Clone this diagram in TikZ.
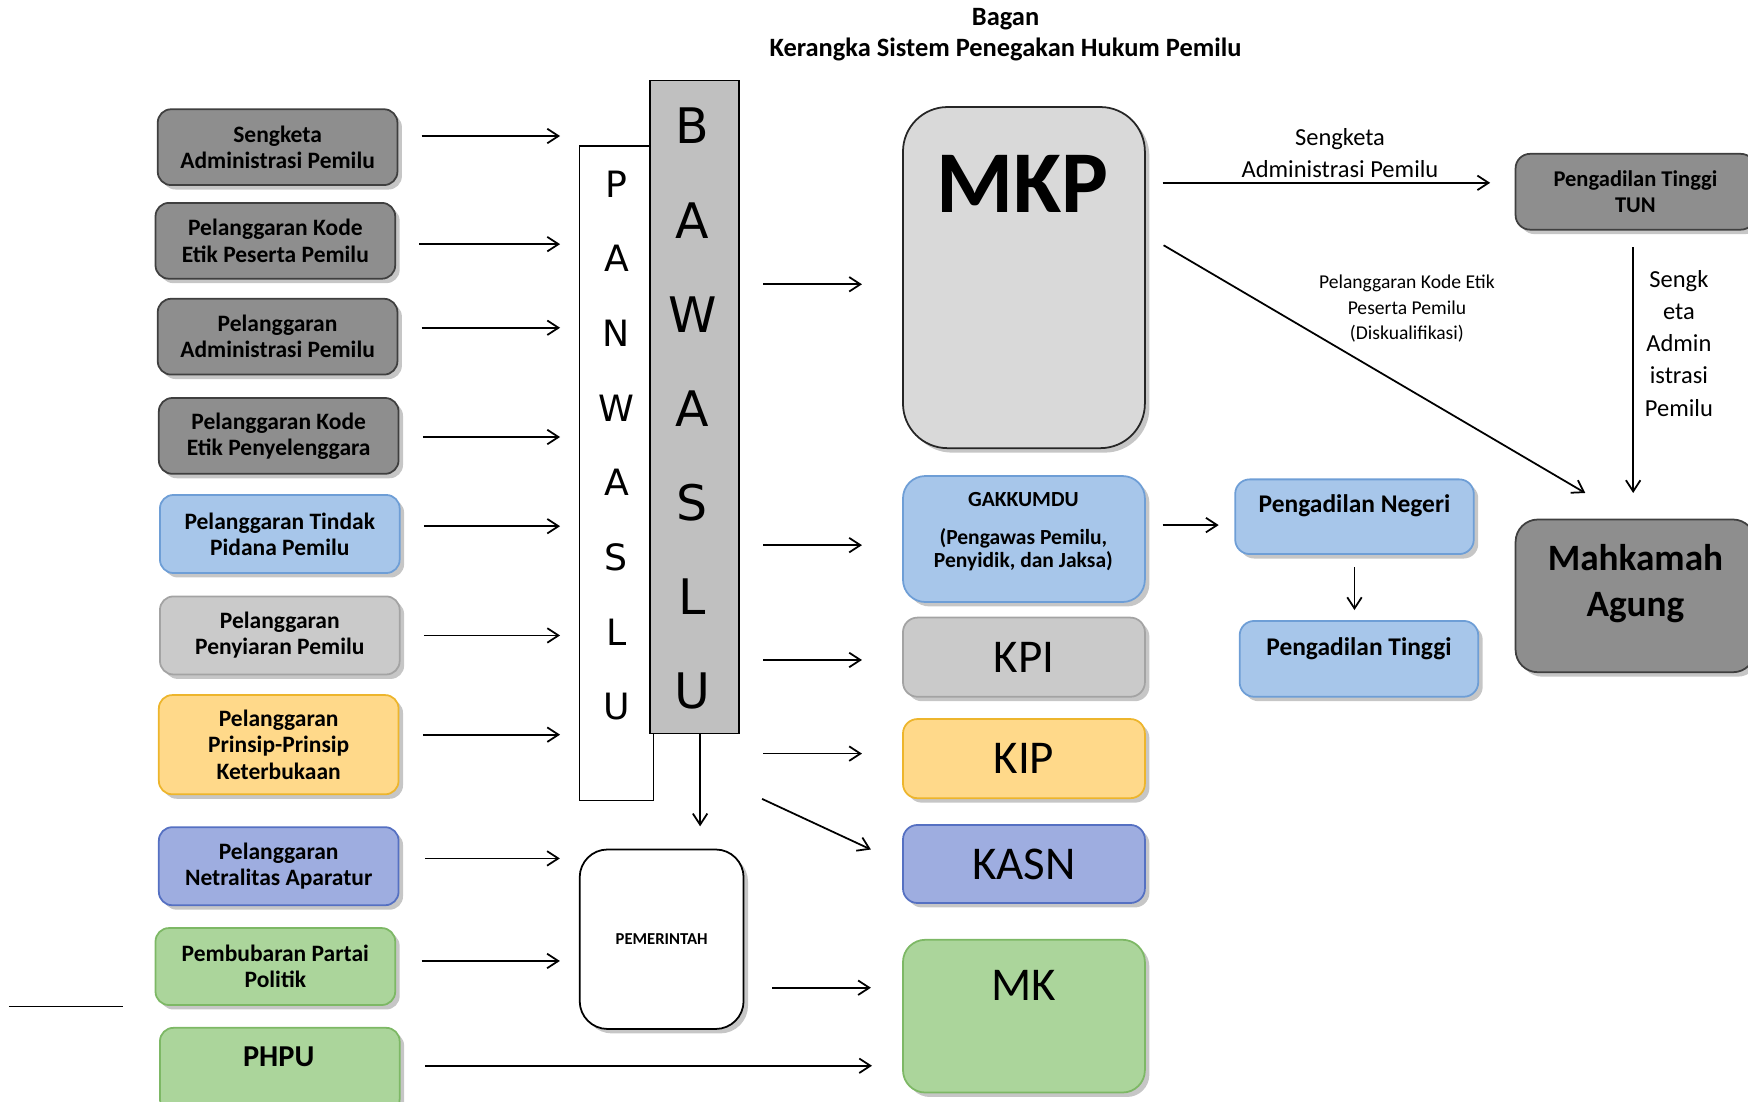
\documentclass[tikz,border=0pt]{standalone}
\usepackage{fontspec}
\setmainfont{Carlito}
\newfontfamily\pillarfont{DejaVu Sans}
\usetikzlibrary{arrows.meta, positioning, calc, shadows}
\definecolor{darkbox}{HTML}{8E8E8E}
\definecolor{darkline}{HTML}{3F3F3F}
\definecolor{bluebox}{HTML}{A7C6EA}
\definecolor{blueline}{HTML}{6E9ED6}
\definecolor{greybox}{HTML}{CACACA}
\definecolor{greyline}{HTML}{A3A3A3}
\definecolor{yellowbox}{HTML}{FFD98A}
\definecolor{yellowline}{HTML}{EDB52C}
\definecolor{violetbox}{HTML}{9EADE0}
\definecolor{violetline}{HTML}{5570C2}
\definecolor{greenbox}{HTML}{ABD59B}
\definecolor{greenline}{HTML}{7DB865}
\definecolor{mkpbox}{HTML}{D9D9D9}
\definecolor{pillargray}{HTML}{C0C0C0}
\tikzset{
  boxshadow/.style={drop shadow={shadow xshift=0.8mm, shadow yshift=-0.8mm, opacity=0.45}},
  graycase/.style={fill=darkbox, draw=darkline},
  bluecase/.style={fill=bluebox, draw=blueline},
  greycase/.style={fill=greybox, draw=greyline},
  yellowcase/.style={fill=yellowbox, draw=yellowline},
  violetcase/.style={fill=violetbox, draw=violetline},
  greencase/.style={fill=greenbox, draw=greenline},
  casebox/.style={draw, rounded corners=2.4mm, line width=0.9pt, minimum width=43mm, align=center,
    font=\bfseries\fontsize{12}{13.4}\selectfont, boxshadow},
  organ/.style={draw, rounded corners=2.6mm, line width=0.9pt, minimum width=43.4mm, align=center, boxshadow},
  bigword/.style={font=\fontsize{24}{28}\selectfont},
  courttext/.style={font=\bfseries\fontsize{13}{15}\selectfont},
  pillar/.style={draw, line width=0.7pt, inner sep=0pt},
  linklabel/.style={font=\fontsize{12.5}{16.4}\selectfont, align=center},
  arr/.style={-{Straight Barb[length=2mm, width=2.6mm]}, line width=0.9pt}
}
\begin{document}
\begin{tikzpicture}[x=0.2mm, y=-0.2mm]
\useasboundingbox (0,0) rectangle (1568,988);
\node[font=\bfseries\fontsize{13.5}{15.9}\selectfont, align=center] (title) at (902,31)
  {Bagan\\Kerangka Sistem Penegakan Hukum Pemilu};

% cases on the left
\node[casebox, graycase, minimum height=13.6mm] (s1) at (249,132) {Sengketa\\Administrasi Pemilu};
\node[casebox, graycase, minimum height=13.6mm] (s2) at (247,216) {Pelanggaran Kode\\Etik Peserta Pemilu};
\node[casebox, graycase, minimum height=13.6mm] (s3) at (249,302) {Pelanggaran\\Administrasi Pemilu};
\node[casebox, graycase, minimum height=13.6mm] (s4) at (250,391) {Pelanggaran Kode\\Etik Penyelenggara};
\node[casebox, bluecase, minimum height=14mm] (s5) at (251,479) {Pelanggaran Tindak\\Pidana Pemilu};
\node[casebox, greycase, minimum height=14mm] (s6) at (251,570) {Pelanggaran\\Penyiaran Pemilu};
\node[casebox, yellowcase, minimum height=17.8mm] (s7) at (250,668) {Pelanggaran\\Prinsip-Prinsip\\Keterbukaan};
\node[casebox, violetcase, minimum height=14mm] (s8) at (250,777) {Pelanggaran\\Netralitas Aparatur};
\node[casebox, greencase, minimum height=13.8mm] (s9) at (247,867) {Pembubaran Partai\\Politik};
\node[casebox, greencase, minimum height=15.2mm] (s10) at (251,960) {};
\node[font=\bfseries\fontsize{15.5}{18}\selectfont] (s10text) at (250,948) {PHPU};
\draw[line width=0.6pt] (8,903) -- (110,903);

% panwaslu / bawaslu
\node[pillar, fill=white, minimum width=13.2mm, minimum height=117.4mm] (pan) at (553,424.5) {};
\node[pillar, fill=pillargray, minimum width=16mm, minimum height=117.2mm] (baw) at (623,365) {};
\foreach \l [count=\i] in {P,A,N,W,A,S,L,U}
  \node[font=\pillarfont\fontsize{18.5}{20}\selectfont] (pl\i) at (553,98+67*\i) {\l};
\foreach \l [count=\i] in {B,A,W,A,S,L,U}
  \node[font=\pillarfont\fontsize{25}{28}\selectfont] (bl\i) at (621,28.5+84.5*\i) {\l};
\node[draw, fill=white, rounded corners=5mm, line width=0.9pt, minimum width=29.4mm, minimum height=32.2mm,
  boxshadow, font=\bfseries\fontsize{8.5}{10}\selectfont] (pem) at (593.5,842.5) {PEMERINTAH};

% institutions
\node[organ, fill=mkpbox, draw=black!85, rounded corners=8mm, minimum height=61.2mm] (mkp) at (918.5,249) {};
\node[font=\bfseries\fontsize{45}{50}\selectfont] (mkptext) at (917,165) {MKP};
\node[organ, bluecase, rounded corners=4mm, minimum height=22.6mm] (gak) at (918.5,483.5) {};
\node[font=\bfseries\fontsize{11}{11.5}\selectfont, align=center] (gaktext) at (918,477)
  {GAKKUMDU\\[8pt](Pengawas Pemilu,\\Penyidik, dan Jaksa)};
\node[organ, greycase, bigword, minimum height=14.2mm] (kpi) at (918.5,589.5) {KPI};
\node[organ, yellowcase, bigword, minimum height=14.2mm] (kip) at (918.5,680.5) {KIP};
\node[organ, violetcase, bigword, minimum height=14mm] (kasn) at (918.5,775) {KASN};
\node[organ, greencase, rounded corners=4mm, minimum height=27.4mm] (mk) at (918.5,911.5) {};
\node[bigword] (mktext) at (918,884) {MK};

% courts
\node[organ, graycase, minimum width=43mm, minimum height=13.6mm, font=\bfseries\fontsize{11.5}{13.6}\selectfont]
  (tun) at (1467,172) {Pengadilan Tinggi\\TUN};
\node[organ, graycase, rounded corners=4mm, minimum width=43mm, minimum height=27.4mm] (ma) at (1467,534.5) {};
\node[font=\bfseries\fontsize{19}{23}\selectfont, align=center] (matext) at (1467,523.5) {Mahkamah\\Agung};
\node[organ, bluecase, minimum width=42.8mm, minimum height=13.4mm] (pn) at (1215,463.5) {};
\node[courttext] (pntext) at (1215,454) {Pengadilan Negeri};
\node[organ, bluecase, minimum width=42.8mm, minimum height=13.6mm] (pt) at (1219,591) {};
\node[courttext] (pttext) at (1219,582) {Pengadilan Tinggi};

% arrows
\foreach \n/\y in {s1/122, s2/219, s3/294, s4/392, s5/472, s6/570, s7/659}
  \draw[arr] ($(\n.east |- 0,\y)+(21,0)$) -- ($(pan.west |- 0,\y)+(-17,0)$);
\foreach \n/\y in {s8/770, s9/862}
  \draw[arr] ($(\n.east |- 0,\y)+(23,0)$) -- ($(pem.west |- 0,\y)+(-17,0)$);
\draw[arr] ($(s10.east |- 0,956)+(22,0)$) -- ($(mk.west |- 0,956)+(-27,0)$);
\foreach \n/\y in {mkp/255, gak/489, kpi/592, kip/676}
  \draw[arr] ($(baw.east |- 0,\y)+(21,0)$) -- ($(\n.west |- 0,\y)+(-36,0)$);
\draw[arr] ($(baw.south east)+(20,58)$) -- ($(kasn.west)+(-28,-13)$);
\draw[arr] ($(baw.south)+(5,0)$) -- ($(baw.south |- pem.north)+(5,-20)$);
\draw[arr] ($(pem.east |- 0,886)+(25,0)$) -- ($(mk.west |- 0,886)+(-28,0)$);
\draw[arr] ($(mkp.east |- 0,164)+(15,0)$) -- ($(tun.west |- 0,164)+(-22,0)$);
\node[linklabel] (tunlabel) at (1202,137) {Sengketa\\Administrasi Pemilu};
\draw[arr] ($(mkp.east |- 0,220)+(16,0)$) -- ($(ma.north)+(-45,-23)$);
\node[font=\fontsize{10}{13}\selectfont, align=center] (dqlabel) at (1262,277)
  {Pelanggaran Kode Etik\\Peserta Pemilu\\(Diskualifikasi)};
\draw[arr] ($(tun.south)+(-2,15)$) -- ($(ma.north)+(-2,-23)$);
\node[linklabel] (malabel) at (1506,308) {Sengk\\eta\\Admin\\istrasi\\Pemilu};
\draw[arr] ($(gak.east |- 0,471)+(15,0)$) -- ($(pn.west |- 0,471)+(-14,0)$);
\draw[arr] ($(pn.south)+(0,11)$) -- ($(pn.south |- pt.north)+(0,-9)$);
\end{tikzpicture}
\end{document}
